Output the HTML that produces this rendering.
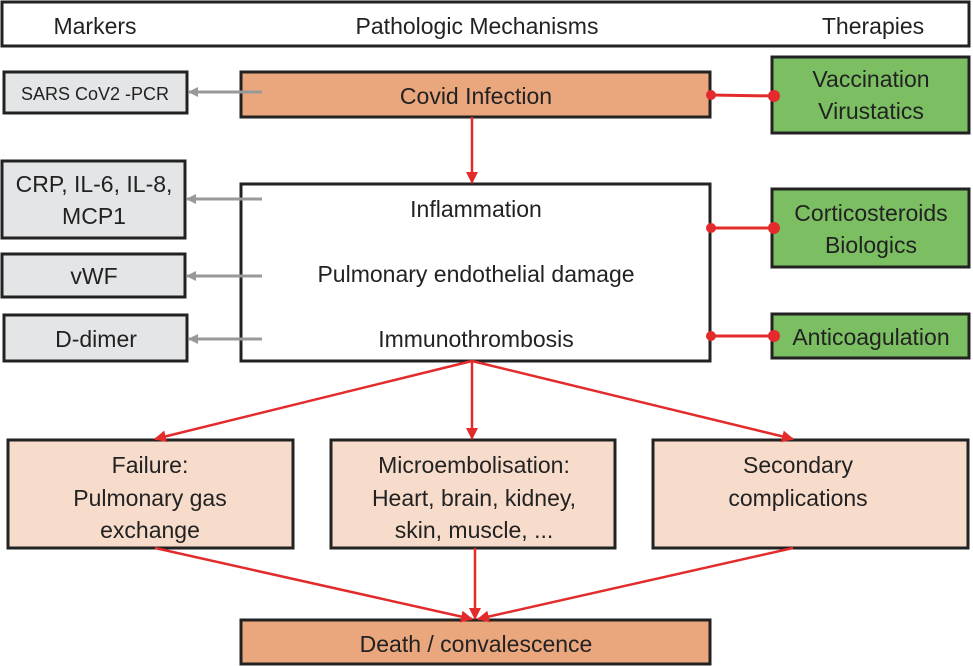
<!DOCTYPE html>
<html><head><meta charset="utf-8"><style>
html,body{margin:0;padding:0;background:#fff;}
svg{display:block;font-family:"Liberation Sans",sans-serif;}
</style></head><body>
<svg width="973" height="666" viewBox="0 0 973 666" xmlns="http://www.w3.org/2000/svg">
<defs>
<marker id="g" markerWidth="10" markerHeight="10" refX="9" refY="5" orient="auto" markerUnits="userSpaceOnUse"><path d="M0,0 L10,5 L0,10 z" fill="#999"/></marker>
<marker id="r" markerWidth="12" markerHeight="12" refX="11" refY="6" orient="auto" markerUnits="userSpaceOnUse"><path d="M0,0 L12,6 L0,12 z" fill="#e32b2b"/></marker>
</defs>
<g stroke="#222" stroke-width="3">
<rect x="2" y="2" width="967" height="44" fill="#fff"/>
<rect x="4" y="72" width="183" height="41" fill="#e4e5e7"/>
<rect x="241" y="72" width="469" height="45" fill="#eaa67d"/>
<rect x="772" y="57" width="197" height="76" fill="#7bbf62"/>
<rect x="2" y="161" width="183" height="77" fill="#e4e5e7"/>
<rect x="2" y="254" width="183" height="43" fill="#e4e5e7"/>
<rect x="4" y="315" width="183" height="46" fill="#e4e5e7"/>
<rect x="241" y="184" width="469" height="177" fill="#fff"/>
<rect x="772" y="189" width="197" height="78" fill="#7bbf62"/>
<rect x="772" y="314" width="197" height="44" fill="#7bbf62"/>
<rect x="8" y="440" width="285" height="108" fill="#f8dccb"/>
<rect x="331" y="440" width="284" height="108" fill="#f8dccb"/>
<rect x="653" y="440" width="315" height="108" fill="#f8dccb"/>
<rect x="241" y="620" width="469" height="44" fill="#eaa67d"/>
</g>
<g stroke="#999" stroke-width="3" marker-end="url(#g)">
<line x1="262" y1="92" x2="189" y2="92"/>
<line x1="262" y1="199" x2="187" y2="199"/>
<line x1="262" y1="276" x2="187" y2="276"/>
<line x1="262" y1="339" x2="189" y2="339"/>
</g>
<g stroke="#e32b2b" stroke-width="2.5" marker-end="url(#r)">
<line x1="472" y1="117" x2="472" y2="183"/>
<line x1="472" y1="361" x2="155" y2="439"/>
<line x1="472" y1="361" x2="472" y2="439"/>
<line x1="472" y1="361" x2="793" y2="439"/>
<line x1="155" y1="548" x2="472" y2="619"/>
<line x1="475" y1="548" x2="475" y2="619"/>
<line x1="793" y1="548" x2="478" y2="619"/>
</g>
<g stroke="#e32b2b" stroke-width="3" fill="#e32b2b">
<line x1="711" y1="95" x2="774" y2="96"/>
<line x1="711" y1="228" x2="774" y2="228"/>
<line x1="711" y1="336" x2="774" y2="336"/>
<circle cx="711" cy="95" r="5" stroke="none"/><circle cx="774" cy="96" r="6" stroke="none"/>
<circle cx="711" cy="228" r="5" stroke="none"/><circle cx="774" cy="228" r="6" stroke="none"/>
<circle cx="711" cy="336" r="5" stroke="none"/><circle cx="774" cy="336" r="6" stroke="none"/>
</g>
<g fill="#222" font-size="23" text-anchor="middle">
<text x="95" y="34">Markers</text>
<text x="477" y="34">Pathologic Mechanisms</text>
<text x="873" y="34">Therapies</text>
<text x="95" y="100" font-size="18">SARS CoV2 -PCR</text>
<text x="476" y="104">Covid Infection</text>
<text x="871" y="87">Vaccination</text>
<text x="871" y="119">Virustatics</text>
<text x="94" y="192">CRP, IL-6, IL-8,</text>
<text x="94" y="224">MCP1</text>
<text x="94" y="284">vWF</text>
<text x="96" y="347">D-dimer</text>
<text x="476" y="217">Inflammation</text>
<text x="476" y="282">Pulmonary endothelial damage</text>
<text x="476" y="347">Immunothrombosis</text>
<text x="871" y="221">Corticosteroids</text>
<text x="871" y="253">Biologics</text>
<text x="871" y="345">Anticoagulation</text>
<text x="150" y="473">Failure:</text>
<text x="150" y="506">Pulmonary gas</text>
<text x="150" y="538">exchange</text>
<text x="474" y="473">Microembolisation:</text>
<text x="474" y="506">Heart, brain, kidney,</text>
<text x="474" y="538">skin, muscle, ...</text>
<text x="798" y="473">Secondary</text>
<text x="798" y="506">complications</text>
<text x="476" y="652">Death / convalescence</text>
</g>
</svg>
</body></html>
